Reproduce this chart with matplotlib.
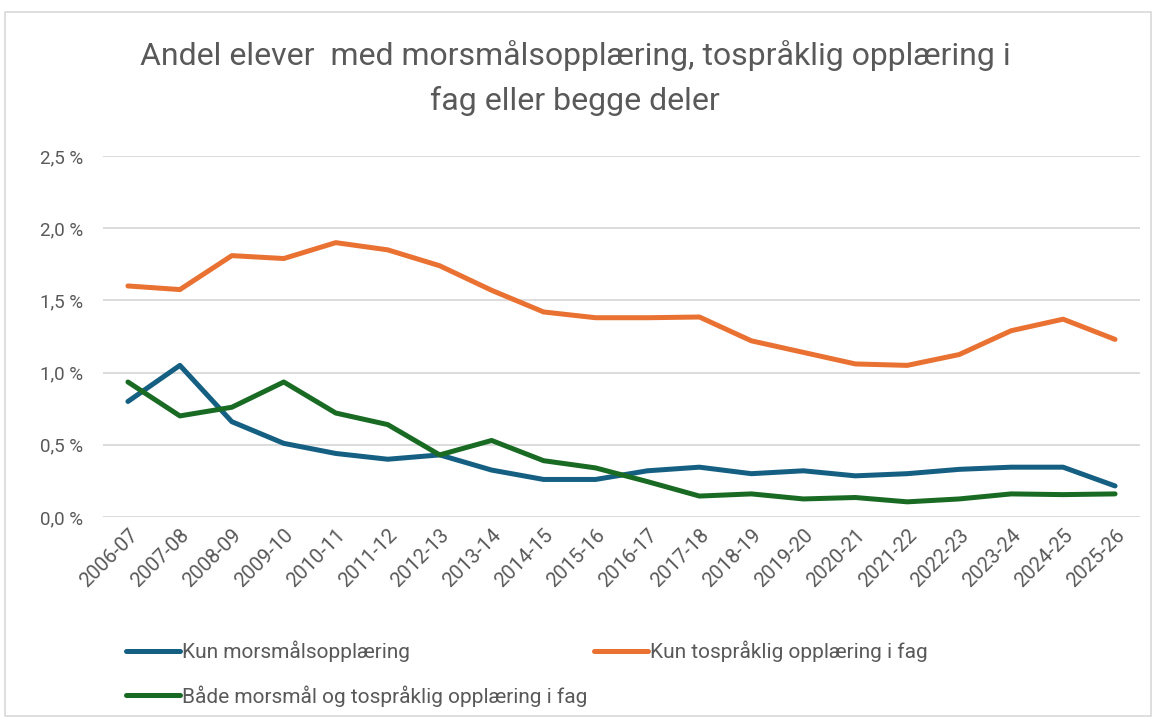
import matplotlib
matplotlib.use("Agg")
import matplotlib.pyplot as plt
from matplotlib.patches import Rectangle
from matplotlib.ticker import FuncFormatter

plt.rcParams["font.family"] = ["Roboto", "DejaVu Sans"]

years = ["2006-07", "2007-08", "2008-09", "2009-10", "2010-11", "2011-12", "2012-13",
         "2013-14", "2014-15", "2015-16", "2016-17", "2017-18", "2018-19", "2019-20",
         "2020-21", "2021-22", "2022-23", "2023-24", "2024-25", "2025-26"]
kun_morsmaal = [0.80, 1.05, 0.66, 0.51, 0.44, 0.40, 0.43, 0.325, 0.26, 0.26,
                0.32, 0.345, 0.30, 0.32, 0.285, 0.30, 0.33, 0.345, 0.345, 0.215]
kun_tospraaklig = [1.60, 1.575, 1.81, 1.79, 1.90, 1.85, 1.74, 1.57, 1.42, 1.38,
                   1.38, 1.385, 1.22, 1.14, 1.06, 1.05, 1.125, 1.29, 1.37, 1.23]
begge = [0.935, 0.70, 0.76, 0.935, 0.72, 0.64, 0.43, 0.53, 0.39, 0.34,
         0.245, 0.145, 0.16, 0.125, 0.135, 0.105, 0.125, 0.16, 0.155, 0.16]

title = "Andel elever  med morsmålsopplæring, tospråklig opplæring i\nfag eller begge deler"
labels = ["Kun morsmålsopplæring", "Kun tospråklig opplæring i fag",
          "Både morsmål og tospråklig opplæring i fag"]
colors = ["#156082", "#E97132", "#196B24"]
grey = "#595959"

fig = plt.figure(figsize=(11.57, 7.22), dpi=100)
fig.patches.append(Rectangle((5 / 1157, 6 / 722), 1146 / 1157, 704 / 722,
                             transform=fig.transFigure, fill=False,
                             edgecolor="#D9D9D9", linewidth=1.2))
ax = fig.add_axes([103 / 1157, 205 / 722, 1037 / 1157, 361 / 722])

x = range(len(years))
lines = []
for vals, lab, c in zip([kun_morsmaal, kun_tospraaklig, begge], labels, colors):
    ln, = ax.plot(x, vals, color=c, linewidth=3.6, label=lab,
                  solid_capstyle="round", solid_joinstyle="round")
    lines.append(ln)

ax.set_xlim(-0.48, len(years) - 0.52)
ax.set_ylim(0, 2.5)
ax.set_yticks([0, 0.5, 1.0, 1.5, 2.0, 2.5])
ax.yaxis.set_major_formatter(FuncFormatter(lambda v, p: f"{v:.1f} %".replace(".", ",")))
ax.grid(axis="y", color="#D9D9D9", linewidth=1.3)
ax.set_axisbelow(True)
for s in ax.spines.values():
    s.set_visible(False)
ax.tick_params(axis="y", length=0, colors=grey, labelsize=13.5, pad=14)
ax.set_xticks(list(x))
ax.set_xticklabels(years, rotation=45, ha="right", rotation_mode="anchor")
ax.tick_params(axis="x", length=0, colors=grey, labelsize=14.5, pad=6)

fig.text(0.497, 1 - 78 / 722, title, ha="center", va="center", fontsize=23,
         color=grey, linespacing=1.65)

fig.legend([lines[0], lines[2], lines[1]], [labels[0], labels[2], labels[1]],
           ncol=2, loc="upper left", bbox_to_anchor=(107 / 1157, 1 - 622 / 722),
           frameon=False, fontsize=15, labelcolor=grey, handlelength=2.6,
           handletextpad=0.1, columnspacing=0.3, labelspacing=1.1)

fig.savefig("out.png", dpi=100)
